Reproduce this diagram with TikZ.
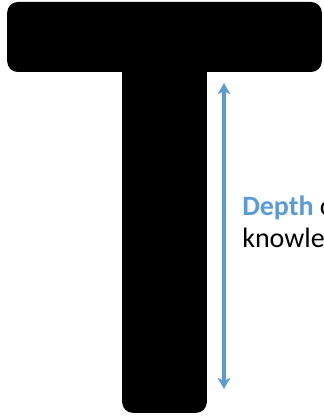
\documentclass[tikz,border=0pt]{standalone}
\usepackage{fontspec}
\setmainfont{Carlito}
\usetikzlibrary{positioning,arrows.meta}
\definecolor{depthblue}{RGB}{91,155,213}

\begin{document}
\begin{tikzpicture}[x=0.75pt, y=-0.75pt,
  part/.style={fill=black, draw=none, rounded corners=8pt, inner sep=0pt},
  lbl/.style={inner sep=0pt, font=\fontsize{21}{25}\selectfont},
  arr/.style={{Stealth[length=8.5pt, width=9.5pt, inset=2.5pt]}-{Stealth[length=8.5pt, width=9.5pt, inset=2.5pt]},
              line width=2.3pt, draw=depthblue}]
  \useasboundingbox (0,0) rectangle (324,417);
  \clip (0,0) rectangle (324,417);
  \node[part, minimum width=63.5pt, minimum height=272pt] (stem) at (164.5,231.5) {};
  \node[part, minimum width=236pt, minimum height=52.5pt] (bar) at (164.5,37) {};
  \coordinate (top) at (224,83);
  \coordinate (bot) at (224,389);
  \draw[arr] (top) -- (bot);
  \node[lbl, anchor=base west] (depth) at (242,215) {\textbf{\color{depthblue}Depth} of};
  \node[lbl, anchor=base west] (know) at (242,247) {knowledge};
\end{tikzpicture}
\end{document}
